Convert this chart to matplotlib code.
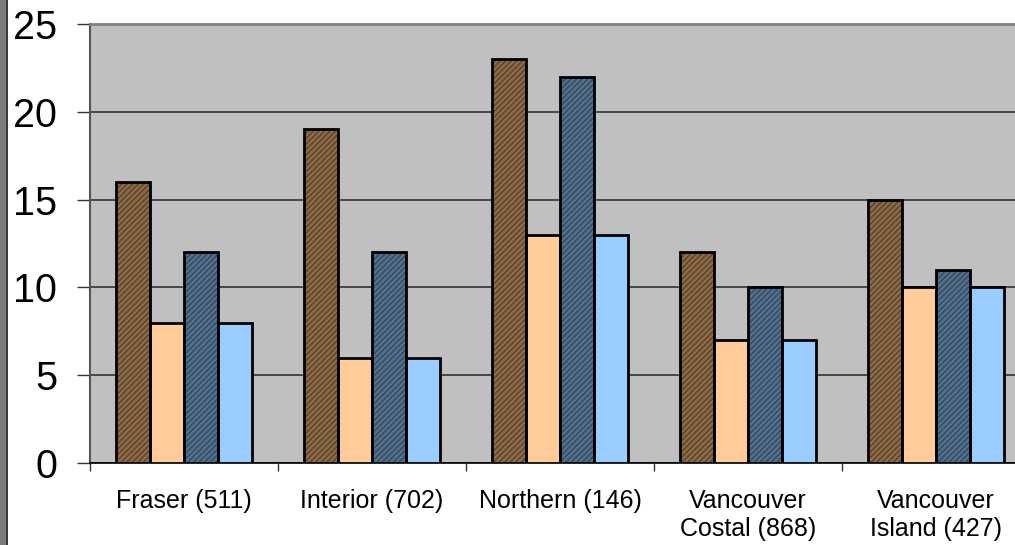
import matplotlib
matplotlib.use("Agg")
import matplotlib.pyplot as plt
from matplotlib.patches import Rectangle
import numpy as np

categories = ["Fraser (511)", "Interior (702)", "Northern (146)",
              "Vancouver\nCostal (868)", "Vancouver\nIsland (427)"]
series_a = [16, 19, 23, 12, 15]   # brown, hatched
series_b = [8, 6, 13, 7, 10]      # peach
series_c = [12, 12, 22, 10, 11]   # slate blue, hatched
series_d = [8, 6, 13, 7, 10]      # light blue
y_ticks = [0, 5, 10, 15, 20, 25]

plt.rcParams['font.family'] = ['Liberation Sans', 'DejaVu Sans']
plt.rcParams['hatch.linewidth'] = 1.1

W, H = 1015, 545
fig = plt.figure(figsize=(W / 100, H / 100), dpi=100)
fig.patch.set_facecolor('white')

# plot area runs past the right edge of the figure
left_px, top_px, bottom_px, width_px = 90, 24, 463, 940
ax = fig.add_axes([left_px / W, (H - bottom_px) / H, width_px / W,
                   (bottom_px - top_px) / H])
ax.set_facecolor('#c0c0c0')

n = len(categories)
x = np.arange(n)
bw = 0.18
offsets = np.array([-1.5, -0.5, 0.5, 1.5]) * bw

styles = [
    (series_a, '#8e6c48', '#5e442b', '//////'),
    (series_b, '#ffcc99', None, None),
    (series_c, '#52718f', '#364b61', '//////'),
    (series_d, '#99ccff', None, None),
]
for (vals, fc, hc, hatch), off in zip(styles, offsets):
    if hatch:
        ax.bar(x + off, vals, bw, color=fc, edgecolor=hc, hatch=hatch,
               linewidth=0, zorder=3)
        ax.bar(x + off, vals, bw, facecolor='none', edgecolor='black',
               linewidth=2, zorder=4)
    else:
        ax.bar(x + off, vals, bw, color=fc, edgecolor='black',
               linewidth=2, zorder=3)

ax.set_xlim(-0.5, n - 0.5)
ax.set_ylim(0, 25)
ax.set_yticks(y_ticks)
ax.set_yticklabels([str(v) for v in y_ticks], fontsize=28.5)
ax.yaxis.grid(True, color='#333333', linewidth=1.2, zorder=1)
ax.set_axisbelow(True)
ax.tick_params(axis='y', length=9.5, width=1, color='#333333', pad=14)

# category boundary ticks, labels centred between them
ax.set_xticks(np.arange(n + 1) - 0.5)
ax.set_xticklabels([])
ax.set_xticks(x, minor=True)
ax.set_xticklabels(categories, minor=True, fontsize=18, linespacing=1.18)
ax.tick_params(axis='x', which='major', length=6, width=1, color='#333333')
ax.tick_params(axis='x', which='minor', length=0, pad=19)

for side in ('top', 'right'):
    ax.spines[side].set_color('#808080')
    ax.spines[side].set_linewidth(2)
ax.spines['left'].set_color('#555555')
ax.spines['left'].set_linewidth(1.5)
ax.spines['bottom'].set_color('black')
ax.spines['bottom'].set_linewidth(1.2)

# frame strip along the left edge
fig.patches.append(Rectangle((0, 0), 6 / W, 1, transform=fig.transFigure,
                             facecolor='#7f7a80', edgecolor='none'))
fig.patches.append(Rectangle((6 / W, 0), 1.5 / W, 1, transform=fig.transFigure,
                             facecolor='#3a3a3a', edgecolor='none'))

fig.savefig('out.png', dpi=100)
